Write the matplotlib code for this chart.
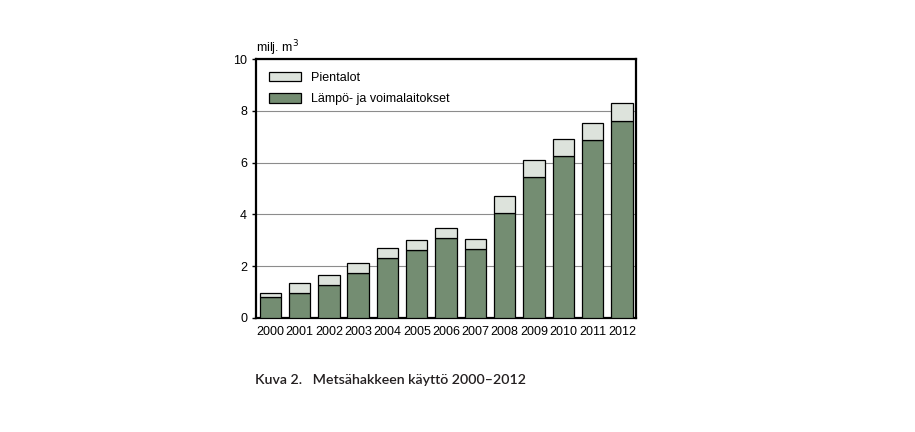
import numpy as np
import matplotlib

matplotlib.use("Agg")
import matplotlib.pyplot as plt

plt.rcParams["font.family"] = ["Liberation Sans", "DejaVu Sans"]

years = ["2000", "2001", "2002", "2003", "2004", "2005", "2006",
         "2007", "2008", "2009", "2010", "2011", "2012"]
lampo = [0.81, 0.97, 1.27, 1.74, 2.32, 2.63, 3.08, 2.65, 4.04, 5.43, 6.24, 6.86, 7.63]
pientalot = [0.15, 0.38, 0.39, 0.38, 0.38, 0.38, 0.38, 0.39, 0.66, 0.66, 0.66, 0.66, 0.66]

GREEN = "#748d72"
LIGHT = "#dde3dc"

fig = plt.figure(figsize=(9.15, 4.32), dpi=100)
ax = fig.add_axes([0.280, 0.264, 0.415, 0.599])

x = np.arange(len(years))
ax.bar(x, lampo, width=0.73, color=GREEN, edgecolor="black", linewidth=0.9,
       label="Lämpö- ja voimalaitokset", zorder=3)
ax.bar(x, pientalot, bottom=lampo, width=0.73, color=LIGHT, edgecolor="black",
       linewidth=0.9, label="Pientalot", zorder=3)

ax.set_xlim(-0.48, 12.48)
ax.set_ylim(0, 10)
ax.set_yticks([0, 2, 4, 6, 8, 10])
ax.set_xticks(x)
ax.set_xticklabels(years, fontsize=9)
ax.tick_params(axis="x", length=0, pad=6)
ax.tick_params(axis="y", labelsize=9, length=3, width=1, direction="out")
ax.grid(axis="y", color="#8c8c8c", linewidth=0.8, zorder=0)

for s in ax.spines.values():
    s.set_linewidth(1.6)
    s.set_color("black")

handles, labels = ax.get_legend_handles_labels()
ax.legend(handles[::-1], labels[::-1], loc="upper left", frameon=False,
          fontsize=9, handlelength=2.6, handleheight=0.8,
          borderaxespad=0.6, labelspacing=0.75)

# unit label just above the axis top
fig.text(0.280, 0.878, "milj. m$^3$", fontsize=9, ha="left", va="baseline")

fig.text(0.279, 0.12, "Kuva 2.   Metsähakkeen käyttö 2000–2012",
         fontsize=10.2, family=["Lato", "DejaVu Sans"], fontweight="semibold",
         color="#231f20", ha="left", va="center")

fig.savefig("out.png", dpi=100)
